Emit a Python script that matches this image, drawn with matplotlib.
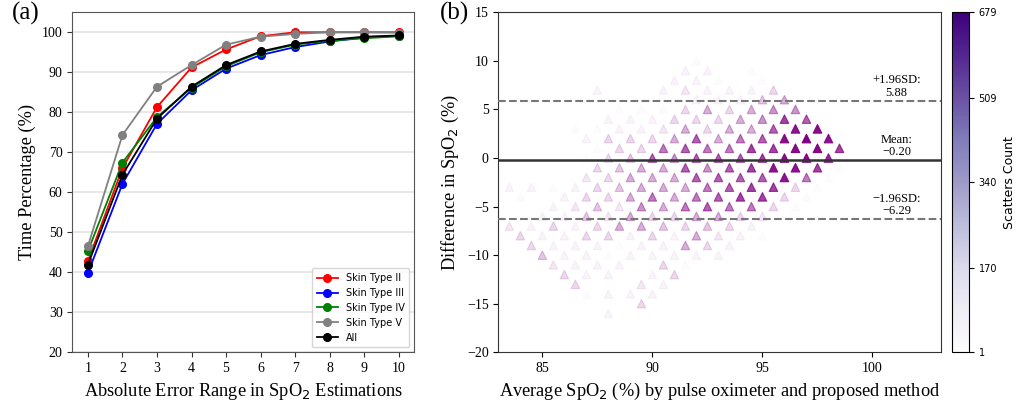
import numpy as np
import matplotlib
matplotlib.use("Agg")
from matplotlib import pyplot as plt
from matplotlib import colors as mcolors
from matplotlib import cm

# ---- panel (a): time percentage vs absolute error range ----
error_range = [1, 2, 3, 4, 5, 6, 7, 8, 9, 10]
skin_ii = [42.8, 66.0, 81.3, 91.2, 95.7, 99.0, 100.0, 100.0, 100.0, 100.0]
skin_iii = [39.8, 62.1, 77.1, 85.5, 90.9, 94.3, 96.3, 97.7, 98.7, 99.1]
skin_iv = [45.3, 67.4, 78.8, 86.1, 91.5, 95.0, 96.9, 97.9, 98.5, 99.0]
skin_v = [46.5, 74.3, 86.4, 91.8, 96.9, 98.9, 99.6, 100.0, 100.0, 99.9]
all_types = [41.9, 64.4, 78.4, 86.4, 91.8, 95.2, 97.1, 98.1, 98.9, 99.2]

# ---- panel (b): Bland-Altman counts (average, difference, count) ----
avg_spo2 = [
    92,                                                    # diff 10
    91.5, 92.5, 94.5,                                      # 9
    91, 92, 93, 95,                                        # 8
    87.5, 90.5, 91.5, 92.5, 93.5, 94.5, 95.5,              # 7
    92, 93, 94, 95, 96,                                    # 6
    88.5, 89.5, 90.5, 91.5, 92.5, 93.5, 94.5, 95.5, 96.5,  # 5
    88, 89, 90, 91, 92, 93, 94, 95, 96, 97,                # 4
    86.5, 87.5, 88.5, 89.5, 90.5, 91.5, 92.5, 93.5, 94.5, 95.5, 96.5, 97.5,  # 3
    87, 88, 89, 90, 91, 92, 93, 94, 95, 96, 97, 98,        # 2
    87.5, 88.5, 89.5, 90.5, 91.5, 92.5, 93.5, 94.5, 95.5, 96.5, 97.5, 98.5,  # 1
    87, 88, 89, 90, 91, 92, 93, 94, 95, 96, 97, 98,        # 0
    87.5, 88.5, 89.5, 90.5, 91.5, 92.5, 93.5, 94.5, 95.5, 96.5, 97.5, 98.5,  # -1
    87, 88, 89, 90, 91, 92, 93, 94, 95, 96, 97, 98,        # -2
    83.5, 84.5, 85.5, 86.5, 87.5, 88.5, 89.5, 90.5, 91.5, 92.5, 93.5, 94.5, 95.5, 96.5, 97.5,  # -3
    84, 86, 87, 88, 89, 90, 91, 92, 93, 94, 95, 96, 97,    # -4
    85.5, 86.5, 87.5, 88.5, 89.5, 90.5, 91.5, 92.5, 93.5, 94.5, 95.5, 96.5,  # -5
    85, 86, 87, 88, 89, 90, 91, 92, 93, 94, 95,            # -6
    83.5, 84.5, 85.5, 86.5, 87.5, 88.5, 89.5, 90.5, 91.5, 92.5, 93.5, 94.5,  # -7
    84, 85, 86, 87, 88, 89, 90, 91, 92, 93, 94, 95,        # -8
    84.5, 85.5, 86.5, 87.5, 88.5, 89.5, 90.5, 91.5, 92.5, 93.5,  # -9
    85, 86, 87, 88, 89, 90, 91, 92, 93,                    # -10
    85.5, 86.5, 87.5, 88.5, 90.5, 91.5,                    # -11
    86, 87, 88, 90, 91,                                    # -12
    86.5, 89.5, 90.5,                                      # -13
    87, 88, 89, 90,                                        # -14
    88.5, 89.5,                                            # -15
    88,                                                    # -16
]
diff_spo2 = (
    [10] * 1 + [9] * 3 + [8] * 4 + [7] * 7 + [6] * 5 + [5] * 9 + [4] * 10
    + [3] * 12 + [2] * 12 + [1] * 12 + [0] * 12 + [-1] * 12 + [-2] * 12
    + [-3] * 15 + [-4] * 13 + [-5] * 12 + [-6] * 11 + [-7] * 12 + [-8] * 12
    + [-9] * 10 + [-10] * 9 + [-11] * 6 + [-12] * 5 + [-13] * 3 + [-14] * 4
    + [-15] * 2 + [-16] * 1
)
counts = [
    8,
    30, 30, 8,
    30, 30, 8, 8,
    30, 30, 60, 30, 30, 30, 100,
    30, 30, 30, 150, 210,
    8, 8, 8, 100, 210, 100, 210, 280, 280,
    30, 30, 30, 100, 100, 100, 210, 280, 500, 420,
    8, 8, 30, 30, 60, 210, 100, 210, 210, 420, 620, 640,
    30, 100, 100, 100, 210, 420, 210, 350, 420, 640, 679, 620,
    8, 100, 100, 350, 420, 350, 350, 500, 500, 640, 650, 500,
    8, 100, 150, 420, 280, 420, 420, 420, 500, 640, 640, 570,
    100, 150, 210, 210, 420, 280, 420, 500, 620, 620, 500, 8,
    60, 100, 210, 210, 210, 420, 420, 420, 420, 620, 350, 8,
    30, 30, 8, 30, 100, 150, 210, 210, 210, 350, 420, 500, 500, 100, 8,
    8, 30, 100, 100, 210, 350, 210, 350, 420, 500, 500, 100, 8,
    30, 60, 150, 60, 280, 210, 350, 420, 350, 350, 100, 8,
    30, 30, 150, 60, 210, 100, 100, 210, 210, 100, 60,
    60, 30, 100, 30, 100, 210, 210, 150, 100, 150, 100, 30,
    100, 30, 30, 100, 100, 30, 100, 30, 210, 60, 30, 8,
    100, 30, 30, 30, 8, 30, 30, 210, 100, 30,
    150, 30, 30, 8, 30, 30, 30, 30, 30,
    60, 30, 30, 30, 100, 8,
    100, 30, 30, 30, 100,
    100, 60, 30,
    8, 30, 30, 30,
    1, 100,
    30,
]
mean_diff = -0.20
upper_loa = 5.88
lower_loa = -6.29

serif = "Liberation Serif"
plt.rcParams["mathtext.fontset"] = "dejavusans"
label_size = 13.2

fig = plt.figure(figsize=(10.16, 4.01), dpi=100)
ax1 = fig.add_axes([0.0712, 0.1214, 0.3366, 0.848])
ax2 = fig.add_axes([0.4905, 0.1214, 0.4354, 0.848])
cax = fig.add_axes([0.9367, 0.1214, 0.017, 0.848])

# ---------- (a) ----------
series = [
    (skin_ii, "red", "Skin Type II"),
    (skin_iii, "blue", "Skin Type III"),
    (skin_iv, "green", "Skin Type IV"),
    (skin_v, "grey", "Skin Type V"),
    (all_types, "black", "All"),
]
for vals, col, lab in series:
    ax1.plot(error_range, vals, "-o", color=col, label=lab, lw=1.3, ms=5.5)

ax1.set_ylim(20, 105)
ax1.set_xticks(error_range)
ax1.set_yticks(range(20, 101, 10))
ax1.yaxis.grid(True, color="#e6e6e6", lw=1.3)
ax1.set_axisbelow(True)
for sp in ax1.spines.values():
    sp.set_color("#555555")
ax1.tick_params(colors="#333333", labelsize=10)
for lbl in ax1.get_xticklabels() + ax1.get_yticklabels():
    lbl.set_fontfamily(serif)
    lbl.set_color("black")
ax1.set_xlabel("Absolute Error Range in SpO$_2$ Estimations", family=serif, fontsize=label_size)
ax1.set_ylabel("Time Percentage (%)", family=serif, fontsize=label_size)
ax1.legend(loc="lower right", fontsize=7, handlelength=2.2, borderpad=0.5)

# ---------- (b) ----------
cnt = np.array(counts, dtype=float)
norm = mcolors.Normalize(vmin=cnt.min(), vmax=cnt.max())
alphas = cnt / cnt.max()
ax2.scatter(avg_spo2, diff_spo2, marker="^", s=38, color="purple",
            alpha=alphas, edgecolors="purple", linewidths=0.8, zorder=2)

ax2.axhline(mean_diff, color="#333333", lw=1.8, zorder=3)
ax2.axhline(upper_loa, color="#777777", lw=1.5, ls="--", zorder=3)
ax2.axhline(lower_loa, color="#777777", lw=1.5, ls="--", zorder=3)
tx = 101.1
ax2.text(tx, upper_loa + 0.2, "+1.96SD:\n%.2f" % upper_loa, ha="center", va="bottom",
         family=serif, fontsize=9, linespacing=1.05)
ax2.text(tx, mean_diff + 0.2, "Mean:\n\u2212%.2f" % abs(mean_diff), ha="center", va="bottom",
         family=serif, fontsize=9, linespacing=1.05)
ax2.text(tx, lower_loa + 0.2, "\u22121.96SD:\n\u2212%.2f" % abs(lower_loa), ha="center",
         va="bottom", family=serif, fontsize=9, linespacing=1.05)

ax2.set_xlim(83.0, 103.1)
ax2.set_ylim(-20, 15)
ax2.set_xticks([85, 90, 95, 100])
ax2.set_yticks(range(-20, 16, 5))
for sp in ax2.spines.values():
    sp.set_color("#333333")
ax2.tick_params(labelsize=10)
for lbl in ax2.get_xticklabels() + ax2.get_yticklabels():
    lbl.set_fontfamily(serif)
ax2.set_xlabel("Average SpO$_2$ (%) by pulse oximeter and proposed method", family=serif,
               fontsize=label_size)
ax2.set_ylabel("Difference in SpO$_2$ (%)", family=serif, fontsize=label_size)

sm = cm.ScalarMappable(norm=norm, cmap="Purples")
cb = fig.colorbar(sm, cax=cax)
cb.set_ticks(np.linspace(cnt.min(), cnt.max(), 5).astype(int))
cb.ax.tick_params(labelsize=7)
cb.set_label("Scatters Count", fontsize=9)

fig.text(0.012, 0.995, "(a)", family=serif, fontsize=18, va="top")
fig.text(0.433, 0.995, "(b)", family=serif, fontsize=18, va="top")

fig.savefig("out.png", dpi=100)
